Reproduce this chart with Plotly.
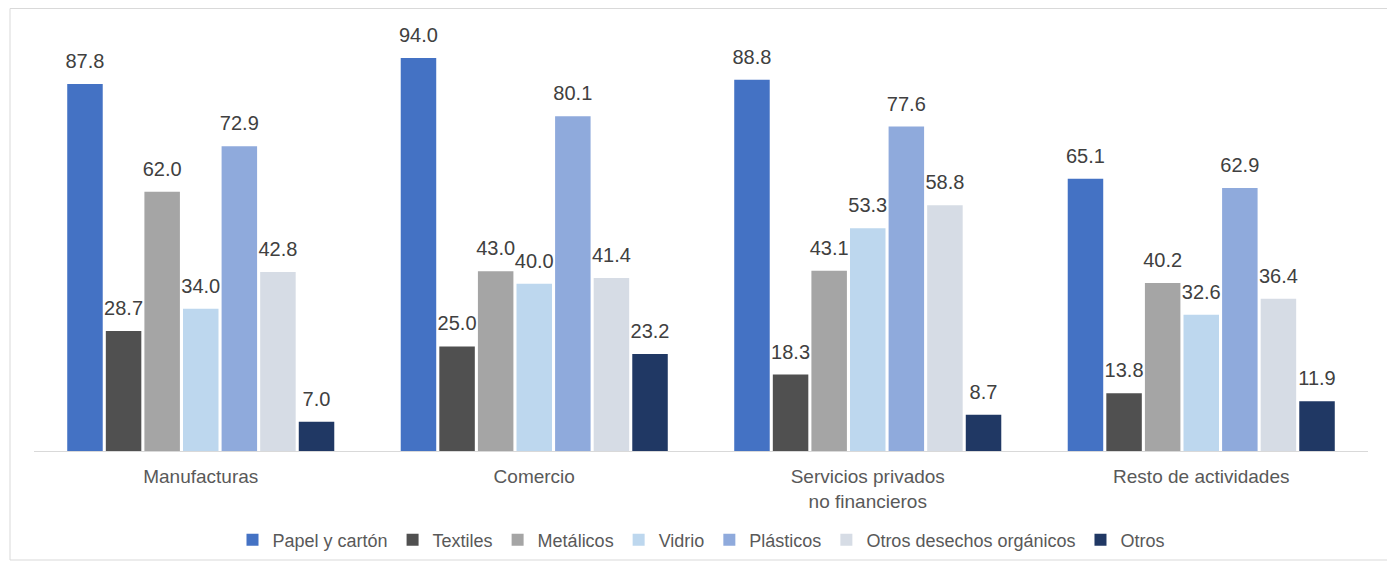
import plotly.graph_objects as go

categories = ["Manufacturas", "Comercio", "Servicios privados<br>no financieros", "Resto de actividades"]
series_names = ["Papel y cartón", "Textiles", "Metálicos", "Vidrio", "Plásticos", "Otros desechos orgánicos", "Otros"]
papel = [87.8, 94.0, 88.8, 65.1]
textiles = [28.7, 25.0, 18.3, 13.8]
metalicos = [62.0, 43.0, 43.1, 40.2]
vidrio = [34.0, 40.0, 53.3, 32.6]
plasticos = [72.9, 80.1, 77.6, 62.9]
otros_org = [42.8, 41.4, 58.8, 36.4]
otros = [7.0, 23.2, 8.7, 11.9]

values = [papel, textiles, metalicos, vidrio, plasticos, otros_org, otros]
colors = ["#4472C4", "#505050", "#A5A5A5", "#BDD7EE", "#8FAADC", "#D6DCE5", "#203864"]

FONT = "Liberation Sans, Arial"
# the page body has an 8px margin, so the figure is sized to fill the rest of the window
W, H = 1387, 559
L, R, T, B = 26, 27, 12, 116
pw, ph = W - L - R, H - T - B

fig = go.Figure()
for i, (name, vals, col) in enumerate(zip(series_names, values, colors)):
    fig.add_trace(go.Bar(
        x=categories, y=vals, name=name, offsetgroup=str(i),
        marker=dict(color=col, line=dict(width=0)),
    ))
for i, (name, vals) in enumerate(zip(series_names, values)):
    fig.add_trace(go.Scatter(
        x=categories, y=vals, name=name, offsetgroup=str(i), showlegend=False,
        mode="markers+text", marker=dict(size=16, opacity=0),
        text=[f"{v:.1f}" for v in vals], textposition="top center",
        textfont=dict(size=20, color="#404040", family=FONT),
        cliponaxis=False, hoverinfo="skip",
    ))

fig.update_layout(
    width=W, height=H,
    barmode="group", bargap=0.19, bargroupgap=0.08,
    scattermode="group", scattergap=0.19,
    paper_bgcolor="white", plot_bgcolor="white",
    margin=dict(l=L, r=R, t=T, b=B, autoexpand=False),
    font=dict(family=FONT, size=19, color="#595959"),
    showlegend=True,
    legend=dict(orientation="h", x=0.5, xanchor="center", y=(443 - 532) / ph, yanchor="middle",
                font=dict(size=18, color="#595959"), itemwidth=30, traceorder="normal"),
    xaxis=dict(showline=True, linecolor="#D9D9D9", linewidth=1, ticks="",
               tickfont=dict(size=19, color="#595959"), ticklabelstandoff=8),
    yaxis=dict(visible=False, range=[0, 103.1], showgrid=False),
    shapes=[dict(type="rect", xref="paper", yref="paper",
                 x0=(2 - L) / pw, x1=(1382 - L) / pw,
                 y0=(443 - 552) / ph, y1=(443 - 0.5) / ph,
                 line=dict(color="#D9D9D9", width=1), fillcolor="rgba(0,0,0,0)", layer="below")],
)
fig.write_html("out.html")
